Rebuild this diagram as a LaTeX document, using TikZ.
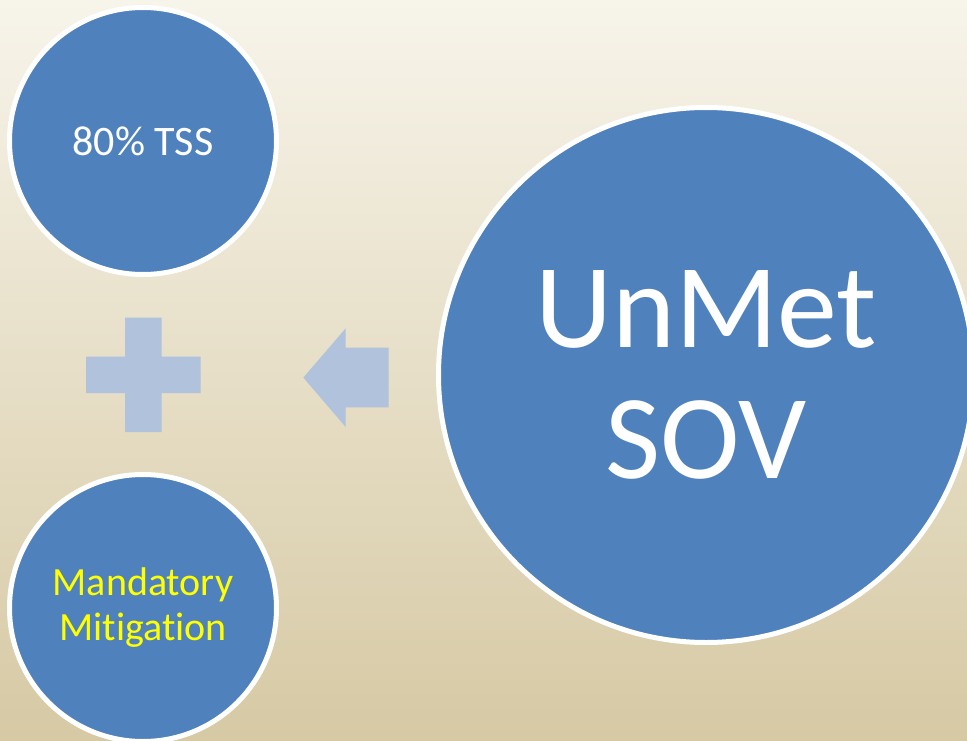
\documentclass[tikz,border=0pt]{standalone}
\usepackage{fontspec}
\setmainfont{Carlito}[RawFeature=-liga]
\definecolor{circblue}{RGB}{79,129,189}
\definecolor{shapeblue}{RGB}{176,194,220}
\definecolor{bgtop}{RGB}{247,244,234}
\definecolor{bgmid}{RGB}{239,233,213}
\definecolor{bgbot}{RGB}{214,201,164}
\definecolor{txtyellow}{RGB}{255,255,0}
\tikzset{
  bubble/.style={circle, fill=circblue, draw=white, line width=5pt, inner sep=0pt, align=center, text=white},
  symb/.style={fill=shapeblue, draw=none}
}
\begin{document}
\begin{tikzpicture}[x=1pt,y=-1pt]
\useasboundingbox (0,0) rectangle (967,741);
\shade[top color=bgtop, middle color=bgmid, bottom color=bgbot] (0,0) rectangle (967,741);
\node[bubble, minimum size=267pt, font=\fontsize{42}{45}\selectfont] (tss) at (143,141) {80\% TSS};
\node[bubble, minimum size=267pt, text=txtyellow, font=\fontsize{40}{45}\selectfont] (mit) at (143,608) {Mandatory\\Mitigation};
\node[bubble, minimum size=535pt, font=\fontsize{120}{131}\selectfont] (sov) at (706,375) {UnMet\\SOV};
\path[symb] (125,317.7) -- (161.7,317.7) -- (161.7,356.7) -- (200.7,356.7) -- (200.7,393) -- (161.7,393) -- (161.7,432) -- (125,432) -- (125,393) -- (86,393) -- (86,356.7) -- (125,356.7) -- cycle;
\path[symb] (303.3,377.6) -- (345.7,328.3) -- (345.7,347.7) -- (388.7,347.7) -- (388.7,407.3) -- (345.7,407.3) -- (345.7,427) -- cycle;
\end{tikzpicture}
\end{document}
